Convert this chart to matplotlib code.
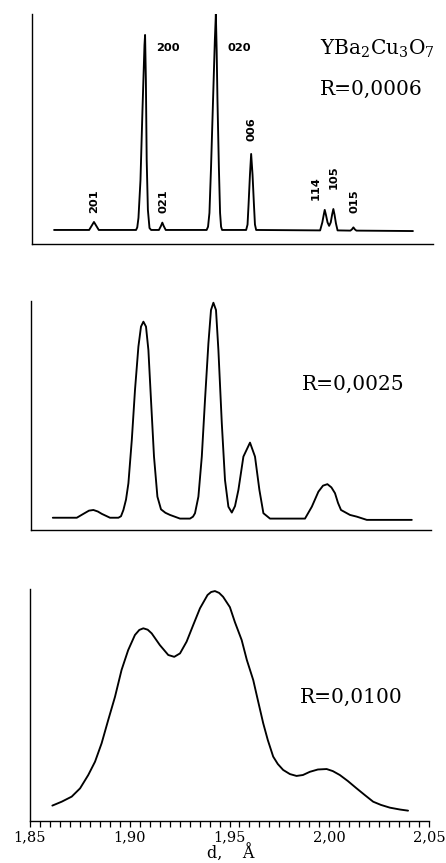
import matplotlib
matplotlib.use("Agg")
import matplotlib.pyplot as plt
from matplotlib.ticker import FixedLocator, FixedFormatter, MultipleLocator, NullLocator

plt.rcParams['font.family'] = ['DejaVu Serif']
plt.rcParams['mathtext.fontset'] = 'dejavuserif'

# ---- Diffraction profiles of YBa2Cu3O7 for three resolutions ----
# d-spacing in Å, intensity in relative units (strongest peak = 100)

d_r0006 = [1.8610, 1.8785, 1.8798, 1.8809, 1.8820, 1.8833,
           1.9019, 1.9025, 1.9031, 1.9041, 1.9051, 1.9061, 1.9064, 1.9068, 1.9072, 1.9078, 1.9086, 1.9094,
           1.9133, 1.9143, 1.9150, 1.9157, 1.9167,
           1.9371, 1.9378, 1.9385, 1.9393, 1.9403, 1.9412, 1.9417, 1.9421, 1.9425, 1.9432, 1.9438, 1.9443, 1.9448,
           1.9568, 1.9575, 1.9580, 1.9587, 1.9593, 1.9600, 1.9607, 1.9612, 1.9618,
           1.9937, 1.9948, 1.9955, 1.9960, 1.9966, 1.9974, 1.9982, 1.9990, 1.9997, 2.0003, 2.0009, 2.0016, 2.0024,
           2.0088, 2.0096, 2.0103, 2.0110, 2.0118,
           2.0400]
i_r0006 = [0.0, 0.0, 2.0, 3.7, 2.0, 0.0,
           0.0, 1.2, 5.6, 23.0, 55.6, 85.6, 90.3, 69.4, 32.4, 9.3, 0.9, 0.0,
           0.0, 1.8, 3.4, 1.8, 0.0,
           0.0, 1.5, 7.9, 29.2, 60.2, 88.0, 100.0, 83.3, 60.2, 29.2, 7.9, 1.5, 0.0,
           0.0, 2.5, 11.6, 25.5, 35.2, 25.5, 11.6, 2.5, 0.0,
           -0.2, 3.5, 7.0, 9.3, 7.0, 3.5, 1.9, 3.5, 7.2, 9.7, 7.0, 3.0, -0.2,
           -0.3, 0.3, 1.2, 0.3, -0.3,
           -0.5]

d_r0025 = [1.8609, 1.8729, 1.8762, 1.8790, 1.8812, 1.8834, 1.8854, 1.8895, 1.8937, 1.8950,
           1.8962, 1.8975, 1.8987, 1.9004, 1.9020, 1.9037, 1.9050, 1.9062, 1.9075, 1.9087, 1.9100,
           1.9115, 1.9132, 1.9150, 1.9172, 1.9195, 1.9245, 1.9295, 1.9310,
           1.9320, 1.9337, 1.9354, 1.9370, 1.9387, 1.9400, 1.9412, 1.9425, 1.9437, 1.9454,
           1.9470, 1.9487, 1.9504, 1.9520,
           1.9537, 1.9562, 1.9595, 1.9620, 1.9642, 1.9662, 1.9695, 1.9870,
           1.9904, 1.9937, 1.9960, 1.9982, 2.0002, 2.0020, 2.0035, 2.0050, 2.0095, 2.0129, 2.0179, 2.0404]
i_r0025 = [0.1, 0.1, 1.9, 3.4, 3.7, 3.0, 1.9, 0.1, 0.1, 0.8,
           3.7, 8.5, 16.1, 36.2, 59.5, 79.6, 88.9, 91.2, 88.9, 78.0, 54.8,
           28.5, 9.9, 4.0, 2.4, 1.4, -0.3, -0.3, 0.6,
           2.2, 9.9, 28.5, 54.8, 81.1, 96.6, 100.0, 96.6, 78.0, 44.0,
           17.6, 5.2, 2.5, 5.5,
           13.0, 28.5, 35.0, 28.5, 13.0, 2.2, -0.3, -0.3,
           5.2, 12.2, 15.0, 15.7, 14.2, 11.5, 7.0, 3.7, 1.4, 0.6, -0.9, -0.9]

d_r0100 = [1.8612, 1.8659, 1.8709, 1.8751, 1.8792, 1.8826, 1.8859, 1.8892, 1.8926,
           1.8959, 1.8992, 1.9026, 1.9048, 1.9068, 1.9090, 1.9110, 1.9151, 1.9193, 1.9223, 1.9252,
           1.9285, 1.9318, 1.9352, 1.9390, 1.9408, 1.9427, 1.9448, 1.9468, 1.9502, 1.9527, 1.9561,
           1.9587, 1.9619, 1.9642, 1.9669, 1.9692, 1.9719, 1.9742, 1.9769, 1.9803,
           1.9836, 1.9868, 1.9903, 1.9943, 1.9987, 2.0018, 2.0053, 2.0093, 2.0137,
           2.0178, 2.0220, 2.0259, 2.0304, 2.0354, 2.0395]
i_r0100 = [6.7, 8.4, 10.6, 14.2, 20.0, 25.8, 33.8, 43.9, 54.0,
           65.7, 74.3, 80.9, 83.1, 83.8, 83.2, 81.6, 76.5, 72.2, 71.4, 72.9,
           78.0, 85.2, 92.5, 98.3, 99.6, 100.0, 99.2, 97.5, 93.0, 86.5, 78.7,
           70.0, 61.3, 52.6, 42.5, 35.2, 28.0, 24.8, 22.2, 20.4,
           19.6, 20.0, 21.4, 22.4, 22.6, 21.7, 20.0, 17.4, 14.2,
           11.3, 8.4, 7.0, 5.8, 5.0, 4.5]

resolutions = ['R=0,0006', 'R=0,0025', 'R=0,0100']
compound = r'YBa$_2$Cu$_3$O$_7$'

# Miller indices of the reflections and where their labels sit (d, intensity)
hkl_labels = ['201', '200', '021', '020', '006', '114', '105', '015']
hkl_label_d = [1.8809, 1.9179, 1.9155, 1.9533, 1.9596, 1.9917, 2.0003, 2.0108]
hkl_label_i = [13.2, 84.3, 13.2, 84.3, 46.5, 19.4, 24.3, 13.2]
hkl_rotation = [90, 0, 90, 0, 90, 90, 90, 90]

tick_values = [1.85, 1.90, 1.95, 2.00, 2.05]
tick_labels = ['1,85', '1,90', '1,95', '2,00', '2,05']
x_label = 'd,    Å'

# ---- Figure layout ----
W, H = 446, 863
fig = plt.figure(figsize=(W / 100, H / 100), dpi=100)


def rect(left, right, top, bottom):
    return [left / W, 1 - bottom / H, (right - left) / W, (bottom - top) / H]


axes_rects = [rect(32, 433, 14, 244), rect(31, 431, 301, 530), rect(30, 429, 589, 821)]
y_limits = [(-6.5, 100.0), (-5.6, 100.8), (0.0, 100.9)]
r_text_pos = [(0.718, 0.648), (0.677, 0.611), (0.677, 0.510)]

profiles = [(d_r0006, i_r0006), (d_r0025, i_r0025), (d_r0100, i_r0100)]

axes = []
for k, (d, inten) in enumerate(profiles):
    ax = fig.add_axes(axes_rects[k])
    ax.plot(d, inten, color='black', lw=1.35, solid_joinstyle='round',
            solid_capstyle='round')
    ax.set_xlim(1.85, 2.05)
    ax.set_ylim(*y_limits[k])
    for side in ('top', 'right'):
        ax.spines[side].set_visible(False)
    for side in ('left', 'bottom'):
        ax.spines[side].set_linewidth(1.0)
        ax.spines[side].set_color('black')
    ax.yaxis.set_major_locator(NullLocator())
    ax.text(r_text_pos[k][0], r_text_pos[k][1], resolutions[k], transform=ax.transAxes,
            fontsize=14.5, ha='left', va='baseline', color='black')
    axes.append(ax)

# bottom axis carries the d scale
ax_b = axes[2]
ax_b.xaxis.set_major_locator(FixedLocator(tick_values))
ax_b.xaxis.set_major_formatter(FixedFormatter(tick_labels))
ax_b.xaxis.set_minor_locator(MultipleLocator(0.005))
ax_b.tick_params(axis='x', which='both', direction='out', length=4, width=0.9,
                 labelsize=10.5, pad=3, colors='black')
for ax in axes[:2]:
    ax.xaxis.set_major_locator(NullLocator())

fig.text(230.5 / W, 1 - 859 / H, x_label, fontsize=11.5, ha='center', va='baseline')

# compound name and reflection labels on the sharpest profile
ax_t = axes[0]
ax_t.text(0.718, 0.822, compound, transform=ax_t.transAxes, fontsize=14.5,
          ha='left', va='baseline')
for lab, dx, iy, rot in zip(hkl_labels, hkl_label_d, hkl_label_i, hkl_rotation):
    ax_t.text(dx, iy, lab, rotation=rot, ha='center', va='center',
              fontsize=8.2, fontweight='bold', family='DejaVu Sans')

fig.savefig('out.png', dpi=100)
